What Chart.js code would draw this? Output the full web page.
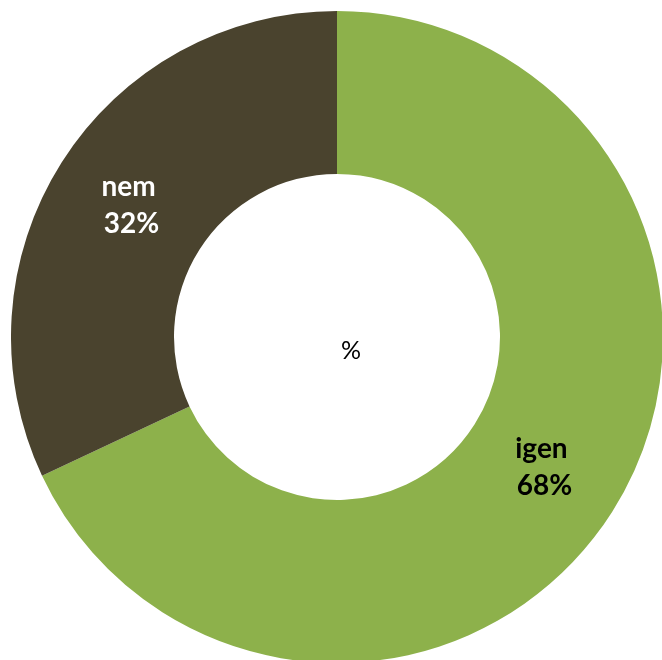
<!DOCTYPE html>
<html>
<head>
<meta charset="utf-8">
<script src="https://cdn.jsdelivr.net/npm/chart.js@4/dist/chart.umd.min.js"></script>
<style>
  html, body { margin: 0; padding: 0; overflow: hidden; background: #fff; }
  #wrap { position: absolute; left: 11px; top: 11px; width: 652px; height: 652px; }
</style>
</head>
<body>
<div id="wrap"><canvas id="pie"></canvas></div>
<script>
var labels = ['igen', 'nem'];
var values = [68, 32];
var colors = ['#8DB14B', '#4A432E'];
var textColors = ['#000000', '#ffffff'];
var centerText = '%';

// draw the slice labels and the centre text
var labelPlugin = {
	id: 'sliceLabels',
	afterDatasetsDraw: function(chart) {
		var ctx = chart.ctx;
		var meta = chart.getDatasetMeta(0);
		ctx.save();
		ctx.textAlign = 'center';
		ctx.textBaseline = 'middle';
		ctx.font = 'bold 28px Lato';
		meta.data.forEach(function(arc, i) {
			var p = arc.tooltipPosition();
			ctx.fillStyle = textColors[i];
			ctx.fillText(labels[i], p.x - 2, p.y - 19);
			ctx.fillText(values[i] + '%', p.x + 1, p.y + 18);
		});
		var a = meta.data[0];
		ctx.fillStyle = '#000';
		ctx.font = '25px Lato';
		ctx.fillText(centerText, a.x + 14, a.y + 14);
		ctx.restore();
	}
};

new Chart(document.getElementById('pie'), {
	type: 'doughnut',
	data: {
		labels: labels,
		datasets: [{
			data: values,
			backgroundColor: colors,
			borderWidth: 0
		}]
	},
	options: {
		responsive: true,
		maintainAspectRatio: false,
		animation: false,
		cutout: '50%',
		layout: { padding: 0 },
		plugins: {
			legend: { display: false },
			tooltip: { enabled: false },
			title: { display: false }
		}
	},
	plugins: [labelPlugin]
});
</script>
</body>
</html>
